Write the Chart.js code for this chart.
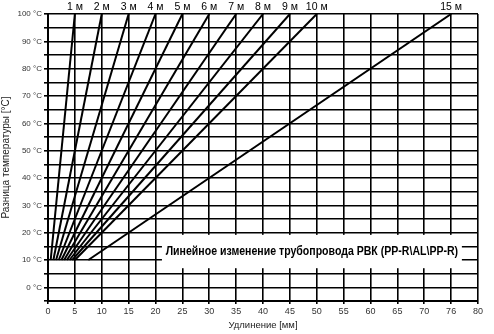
<!DOCTYPE html>
<html><head><meta charset="utf-8">
<script src="https://cdn.jsdelivr.net/npm/chart.js@4/dist/chart.umd.min.js"></script>
<style>html,body{margin:0;padding:0;background:#fff}#w{width:494px;height:334px}</style>
</head><body><div id="w"><canvas id="c"></canvas></div>
<script>
const pipeLengths = ['1 м','2 м','3 м','4 м','5 м','6 м','7 м','8 м','9 м','10 м','15 м'];
const startElongation = [0.5,1,1.5,2,2.5,3,3.5,4,4.5,5,7.5];
const endElongation = [5,10,15,20,25,30,35,40,45,50,75];
const startTemp = 10;
const endTemp = 100;
const xTickLabels = {0:'0',5:'5',10:'10',15:'15',20:'20',25:'25',30:'30',35:'35',40:'40',45:'45',50:'50',55:'55',60:'60',65:'65',70:'70',75:'76',80:'80'};
const yTickLabels = {0:'0 °C',10:'10 °C',20:'20 °C',30:'30 °C',40:'40 °C',50:'50 °C',60:'60 °C',70:'70 °C',80:'80 °C',90:'90 °C',100:'100 °C'};
const captionText = 'Линейное изменение трубопровода РВК (PP-R\\AL\\PP-R)';
const captionBox = {x0:21.2, x1:77.0, y0:7.0, y1:19.2};

const FONT = '"Liberation Sans", Arial, sans-serif';

const datasets = pipeLengths.map((n,i)=>({
  label:n,
  data:[{x:startElongation[i],y:startTemp},{x:endElongation[i],y:endTemp}],
  borderColor:'#000',borderWidth:2,pointRadius:0,showLine:true,fill:false
}));

const captionPlugin = {
  id:'pipeCaption',
  afterDraw(chart){
    const {ctx} = chart;
    const x = chart.scales.x, y = chart.scales.y;
    const l=x.getPixelForValue(captionBox.x0), r=x.getPixelForValue(captionBox.x1);
    const t=y.getPixelForValue(captionBox.y1), b=y.getPixelForValue(captionBox.y0);
    ctx.save();
    ctx.fillStyle='#ffffff';
    ctx.fillRect(l,t,r-l,b-t);
    ctx.fillStyle='#000';
    ctx.font='bold 12px '+FONT;
    ctx.textAlign='center';ctx.textBaseline='middle';
    const w = ctx.measureText(captionText).width;
    const target = (r-l)*0.975;
    const sx = Math.min(1, target/w);
    ctx.translate((l+r)/2,(t+b)/2);
    ctx.scale(sx,1);
    ctx.fillText(captionText,0,0);
    ctx.restore();
  }
};

new Chart(document.getElementById('c'),{
  type:'scatter',
  data:{datasets},
  options:{
    responsive:true,maintainAspectRatio:false,animation:false,
    layout:{padding:{left:0,right:16,top:0,bottom:0}},
    plugins:{legend:{display:false},tooltip:{enabled:false}},
    scales:{
      x:{type:'linear',position:'bottom',min:0,max:80,
        ticks:{stepSize:5,autoSkip:false,maxRotation:0,color:'#333',padding:2,
          font:{family:FONT,size:9},
          callback:v=>xTickLabels[v]??''},
        grid:{color:'#000',lineWidth:1.6,tickLength:3},
        border:{color:'#000',width:2},
        title:{display:true,text:'Удлинение [мм]',color:'#222',padding:{top:1,bottom:3},
          font:{family:FONT,size:9.5}},
        afterFit(s){s.height=33;}
      },
      x2:{type:'linear',position:'top',min:0,max:80,
        afterBuildTicks(s){s.ticks=endElongation.map(v=>({value:v}));},
        ticks:{autoSkip:false,maxRotation:0,color:'#000',padding:1,
          font:{family:FONT,size:10.5},
          callback:(v)=>{const i=endElongation.indexOf(v);return i>=0?pipeLengths[i]:'';}},
        grid:{display:false,drawTicks:false},border:{display:false},
        afterFit(s){s.height=14;}
      },
      y:{type:'linear',min:-5,max:100,
        ticks:{stepSize:5,autoSkip:false,color:'#333',padding:2,
          font:{family:FONT,size:8},
          callback:v=>yTickLabels[v]??''},
        grid:{color:'#000',lineWidth:1.6,tickLength:4},
        border:{color:'#000',width:2},
        title:{display:true,text:'Разница температуры [°C]',color:'#222',padding:{top:0,bottom:2},
          font:{family:FONT,size:10}},
        afterFit(s){s.width=48;}
      }
    }
  },
  plugins:[captionPlugin]
});
</script></body></html>
